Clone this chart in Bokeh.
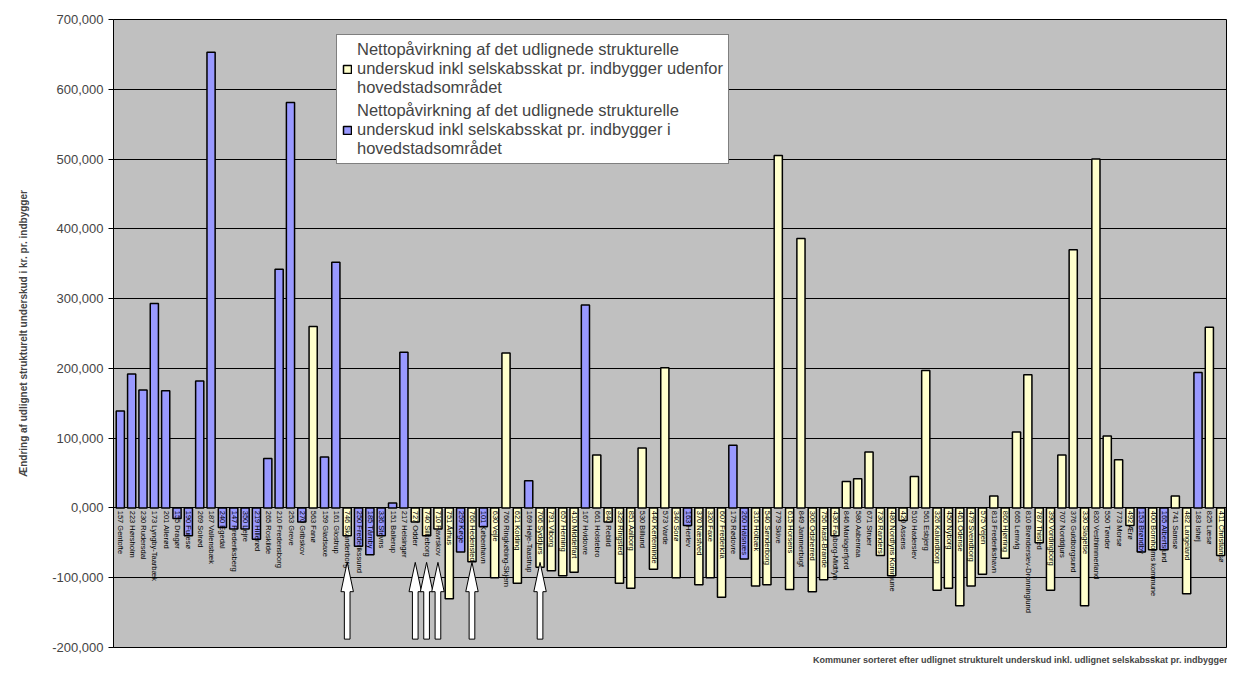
import numpy as np
from bokeh.plotting import figure
from bokeh.models import (ColumnDataSource, Range1d, Legend, LegendItem, Title,
                          CustomJSTickFormatter, FixedTicker)
from bokeh.core.properties import value
from bokeh.embed import file_html
from bokeh.resources import INLINE

kommuner = [
    "157 Gentofte", "223 Hørsholm", "230 Rudersdal", "173 Lyngby-Taarbæk", "201 Allerød",
    "155 Dragør", "190 Furesø", "269 Solrød", "187 Vallensbæk", "240 Egedal",
    "147 Frederiksberg", "350 Lejre", "219 Hillerød", "265 Roskilde", "210 Fredensborg",
    "253 Greve", "270 Gribskov", "563 Fanø", "159 Gladsaxe", "161 Glostrup",
    "746 Skanderborg", "250 Frederikssund", "185 Tårnby", "336 Stevns", "151 Ballerup",
    "217 Helsingør", "727 Odder", "740 Silkeborg", "710 Favrskov", "751 Århus",
    "259 Køge", "766 Hedensted", "101 København", "630 Vejle", "760 Ringkøbing-Skjern",
    "621 Kolding", "169 Høje-Taastrup", "706 Syddjurs", "791 Viborg", "657 Herning",
    "410 Middelfart", "167 Hvidovre", "661 Holstebro", "840 Rebild", "329 Ringsted",
    "851 Aalborg", "530 Billund", "440 Kerteminde", "573 Varde", "340 Sorø",
    "163 Herlev", "370 Næstved", "320 Faxe", "607 Fredericia", "175 Rødovre",
    "260 Halsnæs", "316 Holbæk", "540 Sønderborg", "779 Skive", "615 Horsens",
    "849 Jammerbugt", "306 Odsherred", "756 Ikast-Brande", "430 Faaborg-Midtfyn", "846 Mariagerfjord",
    "580 Aabenraa", "671 Struer", "730 Randers", "480 Nordfyns Kommune", "420 Assens",
    "510 Haderslev", "561 Esbjerg", "326 Kalundborg", "450 Nyborg", "461 Odense",
    "479 Svendborg", "575 Vejen", "813 Frederikshavn", "860 Hjørring", "665 Lemvig",
    "810 Brønderslev-Dronninglund", "787 Thisted", "390 Vordingborg", "707 Norddjurs", "376 Guldborgsund",
    "330 Slagelse", "820 Vesthimmerland", "550 Tønder", "773 Morsø", "492 Ærø",
    "153 Brøndby", "400 Bornholms kommune", "165 Albertslund", "741 Samsø", "482 Langeland",
    "183 Ishøj", "825 Læsø", "411 Christiansø",
]
vaerdi = [
    139000, 192000, 169000, 293000, 168000,
    -15000, -40000, 182000, 653000, -28000,
    -30000, -30000, -45000, 71000, 342000,
    581000, -20000, 260000, 73000, 352000,
    -40000, -55000, -67000, -40000, 7000,
    223000, -20000, -40000, -30000, -130000,
    -63000, -77000, -27000, -100000, 222000,
    -108000, 39000, -85000, -90000, -97000,
    -92000, 291000, 76000, -20000, -108000,
    -115000, 86000, -88000, 201000, -100000,
    -25000, -110000, -100000, -128000, 90000,
    -73000, -112000, -110000, 505000, -117000,
    386000, -120000, -103000, -40000, 38000,
    42000, 80000, -68000, -97000, -18000,
    45000, 197000, -118000, -115000, -140000,
    -112000, -95000, 17000, -72000, 109000,
    191000, -50000, -118000, 76000, 370000,
    -140000, 500000, 103000, 69000, -25000,
    -63000, -60000, -60000, 17000, -123000,
    194000, 259000, -68000,
]
hovedstad = {
    "157 Gentofte", "223 Hørsholm", "230 Rudersdal", "173 Lyngby-Taarbæk", "201 Allerød",
    "155 Dragør", "190 Furesø", "269 Solrød", "187 Vallensbæk", "240 Egedal",
    "147 Frederiksberg", "350 Lejre", "219 Hillerød", "265 Roskilde", "210 Fredensborg",
    "253 Greve", "270 Gribskov", "159 Gladsaxe", "161 Glostrup", "250 Frederikssund",
    "185 Tårnby", "336 Stevns", "151 Ballerup", "217 Helsingør", "259 Køge",
    "101 København", "169 Høje-Taastrup", "167 Hvidovre", "163 Herlev", "175 Rødovre",
    "260 Halsnæs", "153 Brøndby", "165 Albertslund", "183 Ishøj",
}
pile = ["746 Skanderborg", "727 Odder", "740 Silkeborg", "710 Favrskov",
        "766 Hedensted", "706 Syddjurs"]

legend_ude = ("Nettopåvirkning af det udlignede strukturelle\nunderskud inkl selskabsskat pr. "
              "indbygger udenfor\nhovedstadsområdet")
legend_hov = ("Nettopåvirkning af det udlignede strukturelle\nunderskud inkl selskabsskat pr. "
              "indbygger i\nhovedstadsområdet")

FONT = "Liberation Sans"
idx = np.arange(len(kommuner))
is_hov = np.array([k in hovedstad for k in kommuner])
vals = np.array(vaerdi)

p = figure(width=1227, height=669, output_backend="svg", toolbar_location=None,
           x_range=Range1d(-0.6, 97.6), y_range=Range1d(-200000, 700000),
           min_border_left=113, min_border_top=19, min_border_bottom=10, min_border_right=0)
p.background_fill_color = "#C0C0C0"
p.border_fill_color = "white"
p.outline_line_color = "black"

src_u = ColumnDataSource(dict(x=idx[~is_hov], top=vals[~is_hov]))
src_h = ColumnDataSource(dict(x=idx[is_hov], top=vals[is_hov]))
r_u = p.vbar(x="x", top="top", bottom=0, width=0.72, source=src_u,
             fill_color="#FFFFCC", line_color="black", line_width=1.5)
r_h = p.vbar(x="x", top="top", bottom=0, width=0.72, source=src_h,
             fill_color="#9999FF", line_color="black", line_width=1.5)

# kommune labels inside plot, below zero line
p.text(x=idx + 0.05, y=-4000, text=kommuner, angle=-np.pi / 2,
       text_font=value(FONT), text_font_size="7.5px", text_align="left",
       text_baseline="middle", text_color="black")

# hollow arrows under selected kommuner
xs, ys = [], []
for k in pile:
    c = kommuner.index(k)
    xs.append([c - 0.25, c - 0.25, c - 0.55, c, c + 0.55, c + 0.25, c + 0.25])
    ys.append([-188000, -120000, -120000, -78000, -120000, -120000, -188000])
p.patches(xs, ys, fill_color="white", line_color="black", line_width=1)

p.xaxis.visible = False
p.xgrid.visible = False
p.ygrid.grid_line_color = "black"
p.ygrid.grid_line_width = 1
p.yaxis.ticker = FixedTicker(ticks=list(range(-200000, 700001, 100000)))
p.yaxis.formatter = CustomJSTickFormatter(code="""
    if (tick == 0) return '0,000';
    const s = Math.abs(tick).toLocaleString('en-US');
    return (tick < 0 ? '-' : '') + s;
""")
p.yaxis.major_label_text_font = FONT
p.yaxis.major_label_text_font_size = "13px"
p.yaxis.minor_tick_line_color = None
p.yaxis.major_tick_in = 0
p.yaxis.major_tick_out = 5
p.yaxis.axis_label = "Ændring af udlignet strukturelt underskud i kr. pr. indbygger"
p.yaxis.axis_label_text_font = FONT
p.yaxis.axis_label_text_font_size = "10px"
p.yaxis.axis_label_text_font_style = "bold"
p.yaxis.axis_label_standoff = 20

p.add_layout(Title(text="Kommuner sorteret efter udlignet strukturelt underskud inkl. "
                   "udlignet selskabsskat pr. indbygger", align="right",
                   text_font=FONT, text_font_size="9px", text_font_style="bold",
                   offset=0), "below")

legend = Legend(items=[LegendItem(label=legend_ude, renderers=[r_u]),
                       LegendItem(label=legend_hov, renderers=[r_h])],
                location=(223, 483), label_text_font=FONT, label_text_font_size="16.5px",
                label_height=16, label_text_line_height=1.0,
                glyph_width=10, glyph_height=10, spacing=4,
                padding=5, margin=0, border_line_color="black",
                background_fill_color="white", background_fill_alpha=1)
p.add_layout(legend)

open("out.html", "w").write(file_html(p, INLINE))
